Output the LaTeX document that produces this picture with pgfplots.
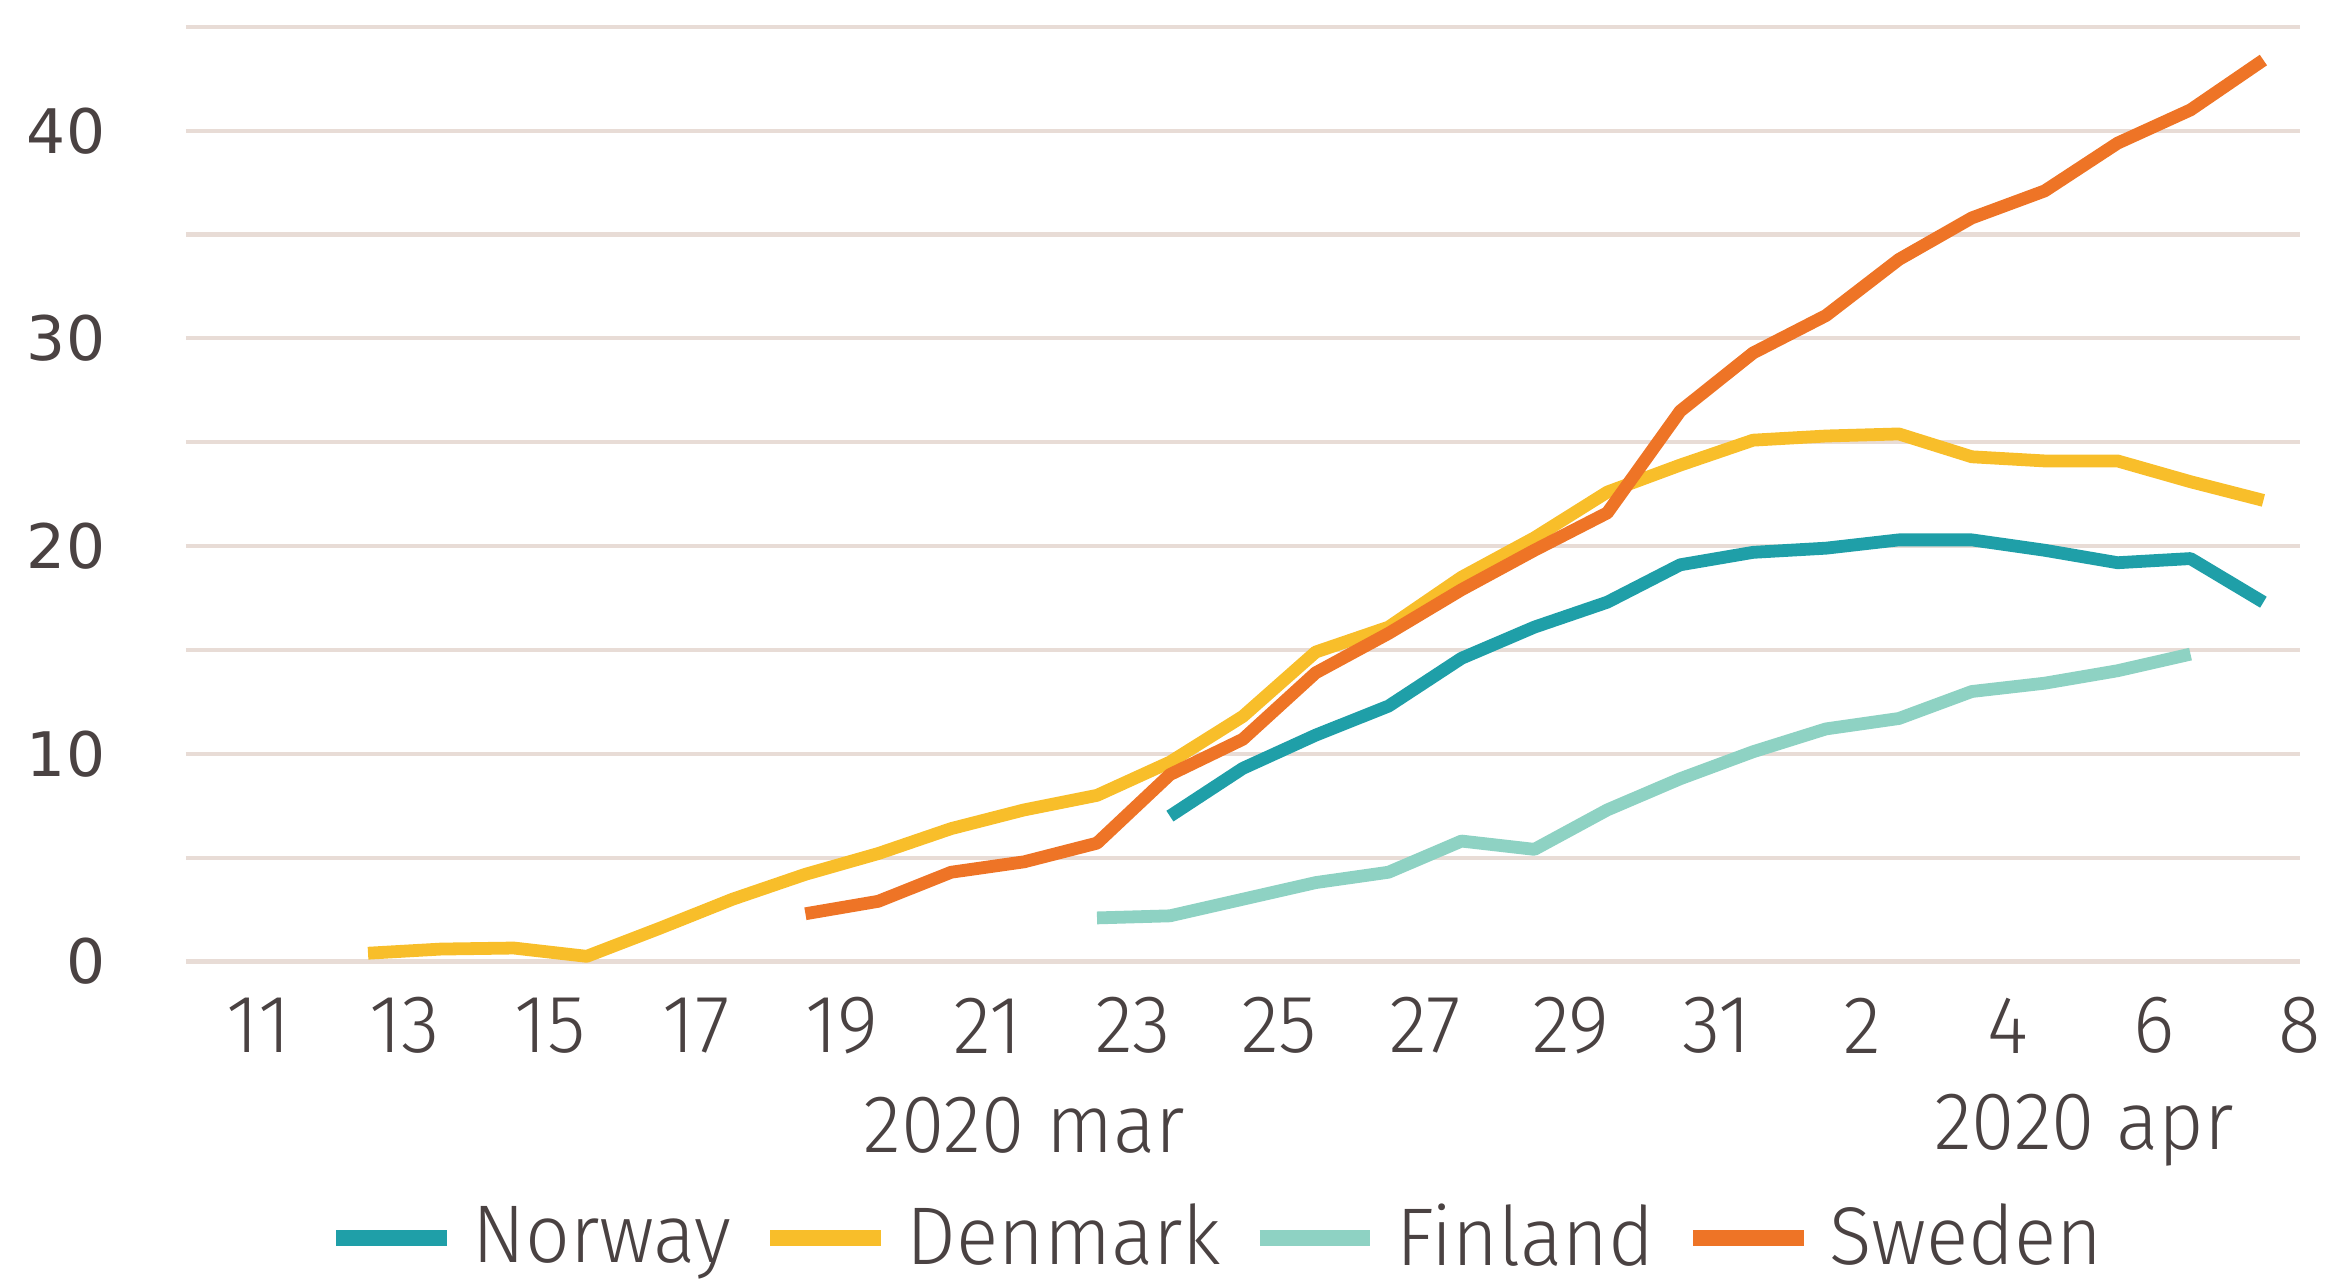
\documentclass[border=0pt]{standalone}
\usepackage{pgfplots}
\pgfplotsset{compat=1.18}
\usepackage{fontspec}
\setmainfont{Fira Sans Light}[FakeStretch=0.96]
\newfontfamily\yfont{DejaVu Sans}
\definecolor{cNor}{HTML}{1F9FA8}
\definecolor{cDen}{HTML}{F8BE2A}
\definecolor{cFin}{HTML}{8ED2C3}
\definecolor{cSwe}{HTML}{EE7426}
\definecolor{cGrid}{HTML}{E8DCD6}
\definecolor{cTxt}{HTML}{4A4242}
\begin{document}
\begin{tikzpicture}
\path (-1.276cm,-2.173cm) rectangle (14.724cm,6.604cm);
\begin{axis}[
  anchor=south west, at={(0,0)},
  scale only axis, width=14.52cm, height=6.42cm,
  xmin=10.5, xmax=39.5, ymin=0, ymax=45,
  clip=false,
  axis line style={draw=none},
  major tick length=0pt, minor tick length=0pt,
  /pgf/number format/assume math mode=true,
  ytick={0,10,20,30,40},
  yticklabels={0,10,20,30,40},
  minor ytick={5,15,25,35,45},
  ymajorgrids, yminorgrids,
  major grid style={draw=cGrid, line width=0.8pt},
  minor grid style={draw=cGrid, line width=0.8pt},
  xtick={11.5,13.5,15.5,17.5,19.5,21.5,23.5,25.5,27.5,29.5,31.5,33.5,35.5,37.5,39.5},
  xticklabels={11,13,15,17,19,21,23,25,27,29,31,2,4,6,8},
  xticklabel style={anchor=center, yshift=-0.44cm, font=\fontsize{16}{18}\selectfont, text=cTxt},
  yticklabel style={anchor=east, xshift=-0.43cm, font=\yfont\fontsize{12}{14}\selectfont, text=cTxt},
  legend columns=4,
  legend style={at={(0.487,-0.296)}, anchor=center, draw=none, fill=none,
    font=\fontsize{16}{18}\selectfont, text=cTxt,
    nodes={inner sep=0pt},
    /tikz/every odd column/.append style={column sep=0.12cm},
    /tikz/every even column/.append style={column sep=0.21cm}},
  legend image code/.code={\draw[#1, line width=3.2pt] (0cm,0cm) -- (0.76cm,0cm);},
  every axis plot/.append style={line width=2.5pt, line join=round, mark=none},
]
\addplot[cNor] coordinates {
(24,7.0) (25,9.3) (26,10.9) (27,12.3) (28,14.6) (29,16.1) (30,17.3) (31,19.1)
(32,19.7) (33,19.9) (34,20.3) (35,20.3) (36,19.8) (37,19.2) (38,19.4) (39,17.3)};
\addlegendentry{Norway}
\addplot[cDen] coordinates {
(13,0.4) (14,0.6) (15,0.65) (16,0.25) (17,1.6) (18,3.0) (19,4.2) (20,5.2)
(21,6.4) (22,7.3) (23,8.0) (24,9.6) (25,11.8) (26,14.9) (27,16.1) (28,18.5)
(29,20.4) (30,22.6) (31,23.9) (32,25.1) (33,25.3) (34,25.4) (35,24.3) (36,24.1)
(37,24.1) (38,23.1) (39,22.2)};
\addlegendentry{Denmark}
\addplot[cFin] coordinates {
(23,2.1) (24,2.2) (25,3.0) (26,3.8) (27,4.3) (28,5.8) (29,5.4) (30,7.3)
(31,8.8) (32,10.1) (33,11.2) (34,11.7) (35,13.0) (36,13.4) (37,14.0) (38,14.8)};
\addlegendentry{Finland}
\addplot[cSwe] coordinates {
(19,2.3) (20,2.9) (21,4.3) (22,4.8) (23,5.7) (24,9.0) (25,10.7) (26,13.9)
(27,15.8) (28,17.9) (29,19.8) (30,21.6) (31,26.5) (32,29.3) (33,31.1) (34,33.8)
(35,35.8) (36,37.1) (37,39.4) (38,41.0) (39,43.4)};
\addlegendentry{Sweden}
\node[anchor=center, text=cTxt, font=\fontsize{16}{18}\selectfont] at (axis cs:22,-7.9) {2020 mar};
\node[anchor=center, text=cTxt, font=\fontsize{16}{18}\selectfont] at (axis cs:36.54,-8.1) {2020 apr};
\end{axis}
\end{tikzpicture}
\end{document}
